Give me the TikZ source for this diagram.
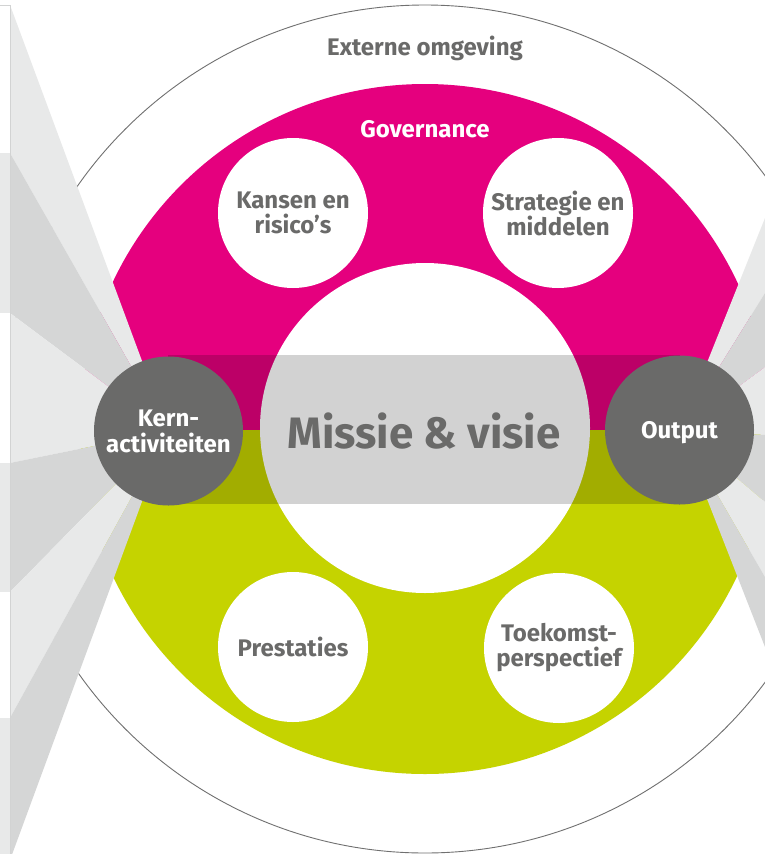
\documentclass[tikz,border=0pt]{standalone}
\usepackage{fontspec}
\setmainfont{Fira Sans}
\definecolor{mag}{HTML}{E5007E}
\definecolor{lime}{HTML}{C5D300}
\definecolor{wedgeL}{HTML}{E8E9E9}
\definecolor{wedgeD}{HTML}{D5D6D6}
\definecolor{dkgrey}{HTML}{6A6A69}
\definecolor{rimline}{HTML}{707070}
\definecolor{panelline}{HTML}{D2D3D3}
\tikzset{
  lightw/.style={fill=wedgeL},
  darkw/.style={fill=wedgeD},
  whitec/.style={circle, fill=white, minimum size=150pt, inner sep=0pt, align=center,
    text=dkgrey, font=\fontsize{24}{25}\selectfont\bfseries},
  greyc/.style={circle, fill=dkgrey, minimum size=149pt, inner sep=0pt, align=center,
    text=white, font=\fontsize{24}{26}\selectfont\bfseries},
  lbl/.style={anchor=base, inner sep=0pt, text=dkgrey, font=\fontsize{24}{25}\selectfont\bfseries}
}
\begin{document}
\begin{tikzpicture}[x=1pt,y=-1pt]
\clip (0,0) rectangle (765,854);
\fill[white] (0,0) rectangle (765,854);
% outer environment circle
\draw[rimline, line width=0.9pt] (425,429) circle (424pt);
% governance / results disk
\begin{scope}
  \clip (0,0) rectangle (765,430);
  \fill[mag] (425,429) circle (345pt);
\end{scope}
\begin{scope}
  \clip (0,430) rectangle (765,854);
  \fill[lime] (425,429) circle (345pt);
\end{scope}
% left fan
\coordinate (la) at (168,431);
\fill[white] (0,0) rectangle (10,854);
\fill[lightw] (10,5) -- (10,153) -- (la) -- cycle;
\fill[darkw] (10,153) -- (10,313) -- (la) -- cycle;
\fill[lightw] (10,313) -- (10,463) -- (la) -- cycle;
\fill[darkw] (10,463) -- (10,592) -- (la) -- cycle;
\fill[lightw] (10,592) -- (10,718) -- (la) -- cycle;
\fill[darkw] (10,718) -- (10,860) -- (la) -- cycle;
\fill[lightw] (0,153) rectangle (10,313);
\fill[lightw] (0,463) rectangle (10,592);
\fill[lightw] (0,718) rectangle (10,854);
\draw[panelline, line width=0.8pt] (0,5) -- (10,5) -- (10,854);
% right fan
\coordinate (ra) at (680,430);
\fill[lightw] (765,218) -- (765,293) -- (ra) -- cycle;
\fill[darkw] (765,293) -- (765,367) -- (ra) -- cycle;
\fill[lightw] (765,367) -- (765,435) -- (ra) -- cycle;
\fill[darkw] (765,435) -- (765,502) -- (ra) -- cycle;
\fill[lightw] (765,502) -- (765,577) -- (ra) -- cycle;
\fill[darkw] (765,577) -- (765,647) -- (ra) -- cycle;
% central circle and band
\node[whitec, minimum size=330pt] (core) at (425,428) {};
\fill[black, fill opacity=0.175] (168,355) rectangle (680,504);
% four white circles
\node[whitec] (kansen) at (293,213) {Kansen en\\risico’s};
\node[whitec] (strategie) at (558,213) {Strategie en\\middelen};
\node[whitec] (prestaties) at (293,647) {Prestaties};
\node[whitec] (toekomst) at (559,648) {Toekomst-\\perspectief};
% grey circles
\node[greyc] (kern) at (168.5,431) {Kern-\\activiteiten};
\node[greyc, text height=17pt, text depth=0pt] (output) at (679.5,430) {Output};
% labels
\node[lbl] (externe) at (425,55) {Externe omgeving};
\node[lbl, text=white] (governance) at (425,137) {Governance};
\node[lbl, font=\fontsize{44}{50}\selectfont\bfseries] (missie) at (424,448) {Missie \& visie};
\end{tikzpicture}
\end{document}
